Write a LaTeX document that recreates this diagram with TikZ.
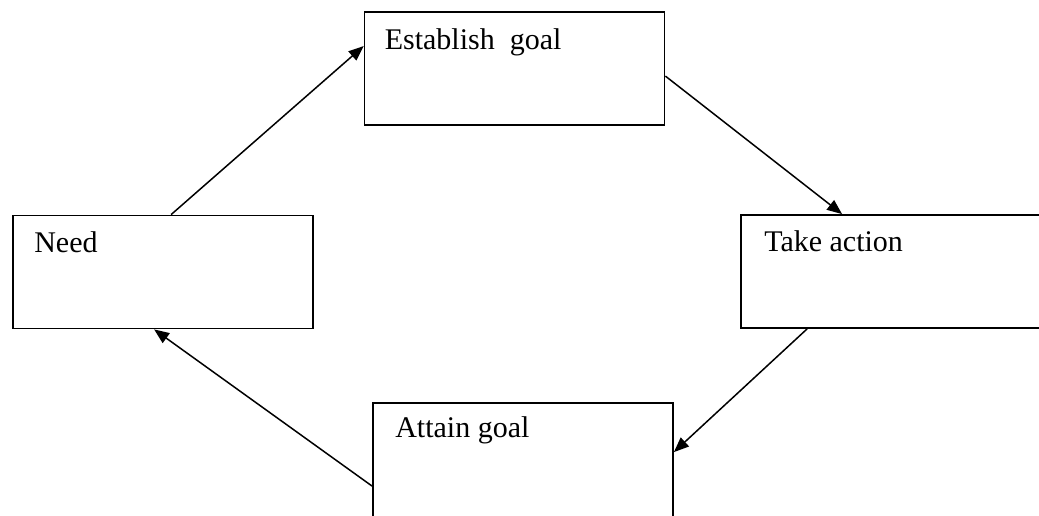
\documentclass[tikz,border=0pt]{standalone}
\usepackage{fontspec}
\setmainfont{Liberation Serif}
\usetikzlibrary{arrows.meta}
\tikzset{
  box/.style={draw, line width=1.8pt, rectangle, minimum width=300pt, minimum height=113pt, inner sep=0pt},
  txt/.style={anchor=base west, inner sep=0pt, font=\fontsize{30}{36}\selectfont},
  conn/.style={line width=1.5pt, -{Triangle[length=15pt,width=12pt]}}
}
\begin{document}
\begin{tikzpicture}[x=1pt,y=-1pt]
\useasboundingbox[fill=white] (0,0) rectangle (1039,516);
\node[box] (establish) at (514.5,68.5) {};
\node[box] (need) at (163,272) {};
\node[box] (take) at (891,271.5) {};
\node[box, minimum height=115pt] (attain) at (523,460.5) {};
\node[txt] (establishlabel) at ([xshift=21pt,yshift=-38pt]establish.north west) {Establish\ \ goal};
\node[txt] (needlabel) at ([xshift=22pt,yshift=-38pt]need.north west) {Need};
\node[txt] (takelabel) at ([xshift=24pt,yshift=-37pt]take.north west) {Take action};
\node[txt] (attainlabel) at ([xshift=23pt,yshift=-35pt]attain.north west) {Attain goal};
\draw[conn] ([xshift=159pt]need.north west) -- ([yshift=-35pt]establish.north west);
\draw[conn] ([yshift=-65pt]establish.north east) -- ([xshift=102pt]take.north west);
\draw[conn] ([xshift=67pt]take.south west) -- ([yshift=-50pt]attain.north east);
\draw[conn] ([yshift=-84pt]attain.north west) -- ([xshift=142pt]need.south west);
\end{tikzpicture}
\end{document}
